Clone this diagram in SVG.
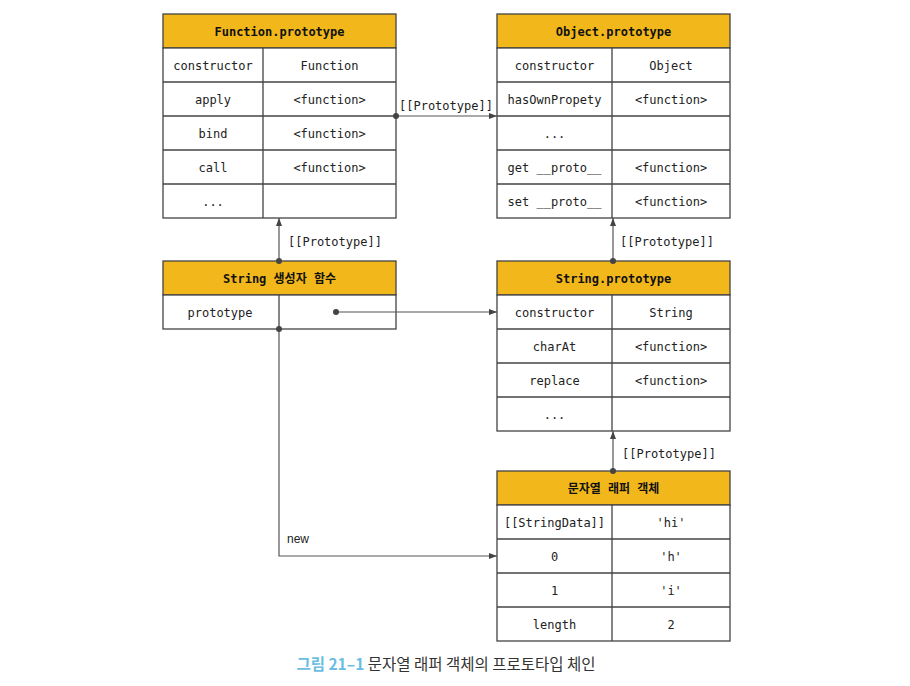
<svg xmlns="http://www.w3.org/2000/svg" width="910" height="686" viewBox="0 0 910 686">
<defs>
<style>
.hd{fill:#F2B81B;stroke:#444;stroke-width:1.3}
.cell{fill:#fff;stroke:#444;stroke-width:1.3}
.ln{stroke:#444;stroke-width:1.3;fill:none}
.t{font-family:"DejaVu Sans Mono","Liberation Mono","Noto Sans CJK KR",monospace;font-size:12px;fill:#222;text-anchor:middle;dominant-baseline:central;transform:translateY(1px)}
.h{font-family:"DejaVu Sans Mono","Noto Sans CJK KR",monospace;font-size:12px;font-weight:bold;fill:#111;text-anchor:middle;dominant-baseline:central;transform:translateY(1px)}
.lb{font-family:"DejaVu Sans Mono","Liberation Mono",monospace;font-size:12px;fill:#222}
.cn{stroke:#555;stroke-width:1.2;fill:none}
.dot{fill:#444}
</style>
<marker id="ar" viewBox="0 0 8 8" refX="8" refY="4" markerWidth="8" markerHeight="8" markerUnits="userSpaceOnUse" orient="auto">
<path d="M0,1 L8,4 L0,7 z" fill="#444"/>
</marker>
</defs>

<g id="function-prototype">
<rect class="hd" x="163" y="14" width="233" height="34"/>
<text class="h" x="279.5" y="31">Function.prototype</text>
<rect class="cell" x="163" y="48" width="233" height="170"/>
<path class="ln" d="M163,82H396M163,116H396M163,150H396M163,184H396M263,48V218"/>
<text class="t" x="213" y="65">constructor</text><text class="t" x="329.5" y="65">Function</text>
<text class="t" x="213" y="99">apply</text><text class="t" x="329.5" y="99">&lt;function&gt;</text>
<text class="t" x="213" y="133">bind</text><text class="t" x="329.5" y="133">&lt;function&gt;</text>
<text class="t" x="213" y="167">call</text><text class="t" x="329.5" y="167">&lt;function&gt;</text>
<text class="t" x="213" y="201">...</text>
</g>

<g id="object-prototype">
<rect class="hd" x="497" y="14" width="233" height="34"/>
<text class="h" x="613.5" y="31">Object.prototype</text>
<rect class="cell" x="497" y="48" width="233" height="170"/>
<path class="ln" d="M497,82H730M497,116H730M497,150H730M497,184H730M612,48V218"/>
<text class="t" x="554.5" y="65">constructor</text><text class="t" x="671" y="65">Object</text>
<text class="t" x="554.5" y="99">hasOwnPropety</text><text class="t" x="671" y="99">&lt;function&gt;</text>
<text class="t" x="554.5" y="133">...</text>
<text class="t" x="554.5" y="167">get __proto__</text><text class="t" x="671" y="167">&lt;function&gt;</text>
<text class="t" x="554.5" y="201">set __proto__</text><text class="t" x="671" y="201">&lt;function&gt;</text>
</g>

<g id="string-constructor">
<rect class="hd" x="163" y="261" width="233" height="34"/>
<text class="h" x="279.5" y="278">String 생성자 함수</text>
<rect class="cell" x="163" y="295" width="233" height="34"/>
<path class="ln" d="M279,295V329"/>
<text class="t" x="220" y="312">prototype</text>
</g>

<g id="string-prototype">
<rect class="hd" x="497" y="261" width="233" height="34"/>
<text class="h" x="613.5" y="278">String.prototype</text>
<rect class="cell" x="497" y="295" width="233" height="136"/>
<path class="ln" d="M497,329H730M497,363H730M497,397H730M612,295V431"/>
<text class="t" x="554.5" y="312">constructor</text><text class="t" x="671" y="312">String</text>
<text class="t" x="554.5" y="346">charAt</text><text class="t" x="671" y="346">&lt;function&gt;</text>
<text class="t" x="554.5" y="380">replace</text><text class="t" x="671" y="380">&lt;function&gt;</text>
<text class="t" x="554.5" y="414">...</text>
</g>

<g id="string-wrapper">
<rect class="hd" x="497" y="471" width="233" height="34"/>
<text class="h" x="613.5" y="488">문자열 래퍼 객체</text>
<rect class="cell" x="497" y="505" width="233" height="136"/>
<path class="ln" d="M497,539H730M497,573H730M497,607H730M612,505V641"/>
<text class="t" x="554.5" y="522">[[StringData]]</text><text class="t" x="671" y="522">'hi'</text>
<text class="t" x="554.5" y="556">0</text><text class="t" x="671" y="556">'h'</text>
<text class="t" x="554.5" y="590">1</text><text class="t" x="671" y="590">'i'</text>
<text class="t" x="554.5" y="624">length</text><text class="t" x="671" y="624">2</text>
</g>

<g id="connectors">
<path class="cn" d="M396,116H497" marker-end="url(#ar)"/>
<circle class="dot" cx="396" cy="116" r="3"/>
<text class="lb" x="399" y="110">[[Prototype]]</text>

<path class="cn" d="M279,261V218" marker-end="url(#ar)"/>
<circle class="dot" cx="279" cy="261" r="3"/>
<text class="lb" x="288" y="246">[[Prototype]]</text>

<path class="cn" d="M336,312H497" marker-end="url(#ar)"/>
<circle class="dot" cx="336" cy="312" r="3"/>

<path class="cn" d="M279,329V556H497" marker-end="url(#ar)"/>
<circle class="dot" cx="279" cy="329" r="3"/>
<text x="287" y="543" style="font-family:'Liberation Sans','Noto Sans',sans-serif;font-size:12px;fill:#222">new</text>

<path class="cn" d="M613,261V218" marker-end="url(#ar)"/>
<circle class="dot" cx="613" cy="261" r="3"/>
<text class="lb" x="620" y="246">[[Prototype]]</text>

<path class="cn" d="M613,471V431" marker-end="url(#ar)"/>
<circle class="dot" cx="613" cy="471" r="3"/>
<text class="lb" x="622" y="458">[[Prototype]]</text>
</g>

<text x="446" y="670" text-anchor="middle" style="font-family:'Noto Sans CJK KR','Noto Sans',sans-serif;font-size:15.5px;fill:#333"><tspan style="fill:#6BBDE3;font-weight:bold">그림 21–1</tspan> 문자열 래퍼 객체의 프로토타입 체인</text>
</svg>
